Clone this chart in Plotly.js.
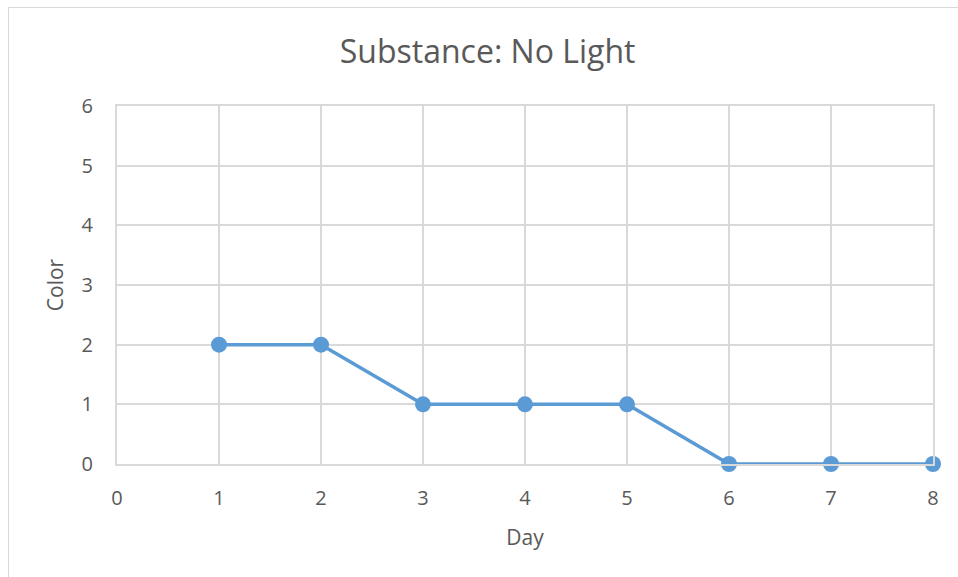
<!DOCTYPE html>
<html><head><meta charset="utf-8">
<script src="https://cdn.plot.ly/plotly-3.0.1.min.js"></script>
<style>
html,body{margin:0;padding:0;background:#fff;overflow:hidden;}
#wrap{position:relative;width:958px;height:577px;}
#chart{position:absolute;left:0;top:0;width:958px;height:577px;}
#frame{position:absolute;left:8px;top:7px;width:970px;height:600px;border:1px solid #d9d9d9;pointer-events:none;}
</style></head>
<body><div id="wrap"><div id="chart"></div><div id="frame"></div></div>
<script>
const days = [1, 2, 3, 4, 5, 6, 7, 8];
const colorValues = [2, 2, 1, 1, 1, 0, 0, 0];
const xTicks = [0, 1, 2, 3, 4, 5, 6, 7, 8];
const yTicks = [0, 1, 2, 3, 4, 5, 6];
const chartTitle = "Substance: No Light";
const xTitle = "Day";
const yTitle = "Color";

const font = "Open Sans, Lato, sans-serif";
Plotly.newPlot("chart", [{
  x: days, y: colorValues, type: "scatter", mode: "lines+markers",
  line: {color: "#5b9bd5", width: 3.5},
  marker: {color: "#5b9bd5", size: 16},
  cliponaxis: false, showlegend: false
}], {
  width: 958, height: 577,
  margin: {l: 117, r: 25, t: 106, b: 113},
  paper_bgcolor: "#fff", plot_bgcolor: "#fff",
  font: {family: font, color: "#595959", size: 20},
  title: {text: chartTitle, font: {size: 32, color: "#595959", family: font}, x: 0.509, xanchor: "center", y: 0.91, yanchor: "middle"},
  xaxis: {range: [0, 8], tickvals: xTicks, ticktext: xTicks.map(String), showgrid: true, gridcolor: "#d9d9d9", gridwidth: 2,
    zeroline: false, showline: true, mirror: true, linecolor: "#d9d9d9", linewidth: 2, ticks: "", ticklen: 0, ticklabelstandoff: 15,
    title: {text: xTitle, font: {size: 21, color: "#595959"}, standoff: 20}, fixedrange: true},
  yaxis: {range: [0, 6], tickvals: yTicks, ticktext: yTicks.map(String), showgrid: true, gridcolor: "#d9d9d9", gridwidth: 2,
    zeroline: false, showline: true, mirror: true, linecolor: "#d9d9d9", linewidth: 2, ticks: "", ticklen: 0, ticklabelstandoff: 18,
    title: {text: yTitle, font: {size: 21, color: "#595959"}, standoff: 12}, fixedrange: true}
}, {displayModeBar: false, staticPlot: true});
</script></body></html>
